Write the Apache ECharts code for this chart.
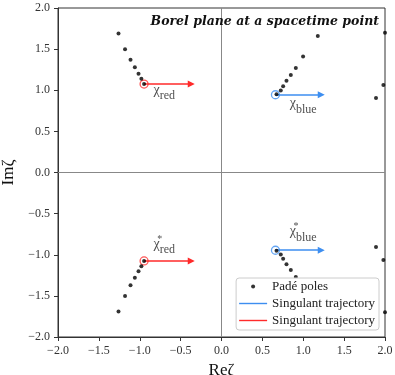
<!DOCTYPE html>
<html>
<head>
<meta charset="utf-8">
<script src="https://cdn.jsdelivr.net/npm/echarts@6/dist/echarts.min.js"></script>
<style>html,body{margin:0;padding:0;background:#fff}#main{width:395px;height:375px}</style>
</head>
<body>
<div id="main"></div>
<script>
// Padé poles (upper half plane, lower half is the conjugate)
var redPoleX = [-1.26, -1.18, -1.113, -1.06, -1.015, -0.98, -0.947];
var redPoleY = [1.69, 1.50, 1.37, 1.28, 1.20, 1.14, 1.075];
var bluePoleX = [1.178, 0.998, 0.909, 0.848, 0.795, 0.754, 0.725, 0.673];
var bluePoleY = [1.66, 1.41, 1.27, 1.185, 1.115, 1.05, 0.998, 0.95];
var edgePoleX = [1.89, 1.98, 2.0];
var edgePoleY = [0.905, 1.065, 1.70];

// singulants: start point and arrow tip (real part)
var redStart = [-0.947, 1.075];
var redEndX = -0.37;
var blueStart = [0.66, 0.945];
var blueEndX = 1.22;

// annotation texts and where they sit
var labelNames = ['red', 'blue', 'red*', 'blue*'];
var labelX = [-0.70, 1.0, -0.70, 1.0];
var labelY = [0.97, 0.81, -0.88, -0.73];

var serif = 'Liberation Serif';

function conj(xs, ys) {
    var out = [];
    for (var i = 0; i < xs.length; i++) {
        out.push([xs[i], ys[i]]);
        out.push([xs[i], -ys[i]]);
    }
    return out;
}

var poles = conj(redPoleX, redPoleY)
    .concat(conj(bluePoleX, bluePoleY))
    .concat(conj(edgePoleX, edgePoleY));

function fmt(v) {
    return (v < 0 ? '\u2212' : '') + Math.abs(v).toFixed(1);
}

function arrows(start, endX) {
    return [
        { coords: [[start[0], start[1]], [endX, start[1]]] },
        { coords: [[start[0], -start[1]], [endX, -start[1]]] }
    ];
}

var labelData = [];
for (var i = 0; i < labelNames.length; i++) {
    labelData.push({ value: [labelX[i], labelY[i]], name: labelNames[i] });
}

var axisCommon = {
    type: 'value',
    min: -2,
    max: 2,
    interval: 0.5,
    splitLine: { show: false },
    axisLine: { onZero: false, lineStyle: { color: '#333', width: 1 } },
    axisTick: { length: 4, lineStyle: { color: '#333' } },
    axisLabel: { formatter: fmt, fontFamily: serif, fontSize: 12, color: '#333' },
    nameLocation: 'middle',
    nameTextStyle: { fontFamily: serif, fontSize: 17, color: '#111' }
};

var myChart = echarts.init(document.getElementById('main'));

var option = {
    backgroundColor: '#fff',
    animation: false,
    title: {
        text: 'Borel plane at a spacetime point',
        right: 16,
        top: 15,
        padding: 0,
        textStyle: {
            fontFamily: 'DejaVu Serif',
            fontStyle: 'italic',
            fontWeight: 'bold',
            fontSize: 12.5,
            color: '#111'
        }
    },
    grid: {
        left: 58, right: 10, top: 8, bottom: 38,
        outerBoundsMode: 'none',
        containLabel: false,
        show: true,
        borderColor: '#333',
        borderWidth: 1
    },
    legend: {
        right: 16,
        top: 278,
        z: 10,
        orient: 'vertical',
        itemWidth: 28,
        itemHeight: 4,
        itemGap: 2,
        padding: [1, 4, 2, 3],
        backgroundColor: 'rgba(255,255,255,0.95)',
        borderColor: '#ccc',
        borderWidth: 1,
        borderRadius: 3,
        textStyle: { fontFamily: serif, fontSize: 13, lineHeight: 15, color: '#222' },
        formatter: function (n) { return n.replace(/ \(.*\)$/, ''); },
        data: [
            { name: 'Padé poles', icon: 'circle', itemStyle: { color: '#000' } },
            { name: 'Singulant trajectory (blue)', icon: 'path://M0,0L28,0L28,1.4L0,1.4Z', itemStyle: { color: '#3d8ef0', borderWidth: 0 } },
            { name: 'Singulant trajectory (red)', icon: 'path://M0,0L28,0L28,1.4L0,1.4Z', itemStyle: { color: '#ff2a2a', borderWidth: 0 } }
        ]
    },
    xAxis: Object.assign({}, axisCommon, { name: 'Reζ', nameGap: 15 }),
    yAxis: Object.assign({}, axisCommon, { name: 'Imζ', nameGap: 36, nameRotate: 90 }),
    series: [
        {
            name: 'zero lines',
            type: 'line',
            data: [],
            silent: true,
            markLine: {
                silent: true,
                symbol: 'none',
                label: { show: false },
                lineStyle: { color: '#888', width: 1, type: 'solid' },
                data: [{ xAxis: 0 }, { yAxis: 0 }]
            }
        },
        {
            name: 'Padé poles',
            type: 'scatter',
            symbolSize: 4,
            itemStyle: { color: '#000' },
            data: poles,
            z: 3
        },
        {
            name: 'Singulant trajectory (blue)',
            type: 'lines',
            coordinateSystem: 'cartesian2d',
            symbol: ['none', 'triangle'],
            symbolSize: [7, 7],
            lineStyle: { color: '#3d8ef0', width: 1.5, opacity: 1 },
            data: arrows(blueStart, blueEndX),
            z: 2
        },
        {
            name: 'Singulant trajectory (red)',
            type: 'lines',
            coordinateSystem: 'cartesian2d',
            symbol: ['none', 'triangle'],
            symbolSize: [7, 7],
            lineStyle: { color: '#ff2a2a', width: 1.5, opacity: 1 },
            data: arrows(redStart, redEndX),
            z: 2
        },
        {
            name: 'blue start',
            type: 'scatter',
            symbol: 'circle',
            symbolSize: 8,
            itemStyle: { color: 'rgba(0,0,0,0)', borderColor: '#3d8ef0', borderWidth: 1.3 },
            data: [[blueStart[0], blueStart[1]], [blueStart[0], -blueStart[1]]],
            z: 2
        },
        {
            name: 'red start',
            type: 'scatter',
            symbol: 'circle',
            symbolSize: 8,
            itemStyle: { color: 'rgba(0,0,0,0)', borderColor: '#ff2a2a', borderWidth: 1.3 },
            data: [[redStart[0], redStart[1]], [redStart[0], -redStart[1]]],
            z: 2
        },
        {
            name: 'labels',
            type: 'scatter',
            symbolSize: 0,
            silent: true,
            data: labelData,
            label: {
                show: true,
                position: 'inside',
                color: '#222',
                formatter: function (p) {
                    var n = p.name;
                    if (n.indexOf('*') >= 0) {
                        return '{c|χ}{st|*}{s|' + n.replace('*', '') + '}';
                    }
                    return '{c|χ}{s|' + n + '}';
                },
                rich: {
                    c: { fontFamily: serif, fontSize: 14, padding: [0, 0, 5, 0], verticalAlign: 'bottom' },
                    st: { fontFamily: serif, fontSize: 10, padding: [0, 0, 12, 0], width: 0, verticalAlign: 'bottom' },
                    s: { fontFamily: serif, fontSize: 12, verticalAlign: 'bottom' }
                }
            }
        }
    ]
};
myChart.setOption(option);
</script>
</body>
</html>
